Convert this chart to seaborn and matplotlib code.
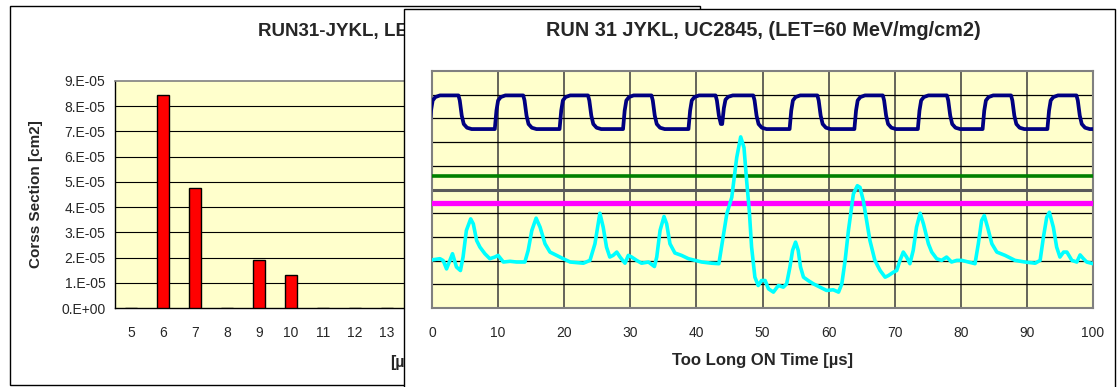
import numpy as np
import pandas as pd
import matplotlib
matplotlib.use("Agg")
import matplotlib.pyplot as plt
from matplotlib.patches import Rectangle
import seaborn as sns

sns.set_style("white")
plt.rcParams["font.family"] = ["Liberation Sans", "DejaVu Sans"]

# ---- cross-section histogram (left chart) ----
ton_bins = [5, 6, 7, 8, 9, 10, 11, 12, 13, 14, 15, 16, 17, 18, 19, 20, 21, 22]
cross_section = [0.0, 8.45e-5, 4.77e-5, 0.0, 1.92e-5, 1.29e-5, 0.0, 0.0, 0.0,
                 0.0, 0.0, 0.0, 0.0, 0.0, 0.0, 0.0, 0.0, 0.0]
xs_ticks = [0.0, 1e-5, 2e-5, 3e-5, 4e-5, 5e-5, 6e-5, 7e-5, 8e-5, 9e-5]
xs_tick_labels = ["0.E+00", "1.E-05", "2.E-05", "3.E-05", "4.E-05",
                  "5.E-05", "6.E-05", "7.E-05", "8.E-05", "9.E-05"]

# ---- oscilloscope capture (right chart), time in us, amplitude in divisions ----
time_ticks = [0, 10, 20, 30, 40, 50, 60, 70, 80, 90, 100]

blue_rise_us = [-0.4, 9.5, 19.3, 28.9, 38.8, 43.9, 54.1, 63.9, 73.5, 83.3, 93.1]
blue_fall_us = [4.0, 13.8, 23.6, 33.2, 42.9, 48.6, 58.3, 68.2, 77.9, 87.6, 97.5]
blue_high_div = 8.97
blue_low_div = 7.55

green_t = [0.0, 100.0]
green_div = [5.58, 5.58]

magenta_t = [0.0, 100.0]
magenta_div = [4.42, 4.42]

cyan_t = [0.0, 1.2, 1.7, 2.2, 3.1, 3.7, 4.3, 4.7, 5.2, 5.85, 6.25, 6.75, 7.25, 8.0,
          8.75, 9.5, 10.0, 10.8, 11.8, 12.8, 14.05, 14.55, 15.1, 15.75, 16.35, 17.1,
          17.85, 18.85, 19.85, 20.9, 22.9, 23.9, 24.65, 25.4, 25.9, 26.4, 26.9, 27.4,
          27.95, 28.45, 29.2, 29.7, 30.2, 30.95, 31.7, 32.75, 33.65, 34.0, 34.5, 35.1,
          35.5, 36.0, 36.75, 37.75, 38.8, 39.8, 40.8, 42.3, 43.4, 43.8, 44.6, 45.35,
          46.1, 46.7, 47.2, 47.6, 48.0, 48.35, 48.85, 49.35, 49.85, 50.4, 50.9, 51.65,
          52.4, 53.15, 53.65, 54.15, 54.55, 55.0, 55.4, 55.75, 56.2, 56.9, 57.7, 58.7,
          59.7, 60.7, 61.5, 62.0, 62.5, 63.0, 63.75, 64.35, 64.75, 65.25, 65.75, 66.25,
          67.0, 67.8, 68.55, 69.05, 69.8, 70.3, 70.8, 71.3, 71.8, 72.3, 72.8, 73.3,
          73.85, 74.35, 74.6, 75.1, 75.6, 76.35, 77.1, 77.85, 78.6, 79.4, 80.15, 81.15,
          82.15, 82.65, 83.15, 83.55, 84.05, 84.7, 85.45, 86.7, 88.2, 89.7, 91.25, 92.0,
          92.5, 93.0, 93.4, 94.0, 94.5, 95.0, 95.55, 96.05, 96.8, 97.55, 98.05, 98.55,
          99.05, 100.0]
cyan_div = [2.03, 2.08, 2.0, 1.65, 2.29, 1.73, 1.58, 2.15, 3.27, 3.76, 3.55, 2.85, 2.57, 2.29,
            2.08, 2.15, 2.22, 1.94, 1.97, 1.94, 1.94, 2.43, 3.27, 3.79, 3.41, 2.71,
            2.36, 2.22, 2.08, 1.94, 1.89, 2.01, 2.71, 4.0, 3.41, 2.57, 2.15, 2.22,
            2.36, 2.15, 1.89, 2.22, 2.15, 2.01, 1.89, 1.94, 1.75, 2.15, 3.27, 3.86,
            3.55, 2.71, 2.32, 2.22, 2.08, 2.01, 1.94, 1.89, 1.87, 2.57, 3.97, 4.67,
            6.35, 7.22, 6.77, 5.37, 4.11, 2.57, 1.30, 0.95, 1.16, 1.16, 0.81, 0.67,
            0.95, 0.88, 1.02, 1.73, 2.43, 2.78, 2.43, 1.73, 1.30, 1.16, 1.02, 0.88,
            0.74, 0.77, 0.67, 1.02, 2.01, 3.27, 4.81, 5.16, 5.09, 4.53, 3.69, 2.85,
            2.01, 1.58, 1.30, 1.37, 1.51, 1.58, 2.01, 2.36, 2.15, 1.87, 2.43, 3.41,
            4.0, 3.55, 3.27, 2.71, 2.36, 2.08, 2.01, 2.15, 1.94, 2.01, 2.01, 1.94,
            1.87, 2.71, 3.69, 3.9, 3.41, 2.71, 2.36, 2.22, 2.01, 1.94, 1.89, 2.01,
            2.99, 3.83, 4.04, 3.41, 2.57, 2.15, 2.36, 2.36, 2.01, 1.94, 2.24, 2.08,
            1.94, 1.87]


def square_trace(rises, falls, hi, lo, t_end):
    """Polyline through the measured rising/falling edges of a logic trace."""
    rise_edge = [(0.0, 0.0), (0.25, 0.55), (0.5, 0.85), (0.9, 0.95), (1.6, 1.0)]
    fall_edge = [(0.0, 0.0), (0.2, 0.15), (0.5, 0.6), (0.8, 0.85), (1.3, 0.96), (2.0, 1.0)]
    events = sorted([(t, "r") for t in rises] + [(t, "f") for t in falls])
    ts, vs = [], []
    v_now = lo
    for i, (t0, kind) in enumerate(events):
        t_next = events[i + 1][0] if i + 1 < len(events) else t_end
        target, edge = (hi, rise_edge) if kind == "r" else (lo, fall_edge)
        v0 = v_now
        for dt, p in edge:
            if t0 + dt < t_next:
                v_now = v0 + p * (target - v0)
                ts.append(t0 + dt)
                vs.append(v_now)
    ts.append(t_end)
    vs.append(v_now)
    return np.array(ts), np.array(vs)


W, H = 1117, 387


def frac(x0, y0, x1, y1):
    return [x0 / W, 1 - y1 / H, (x1 - x0) / W, (y1 - y0) / H]


def fpos(x, y):
    return x / W, 1 - y / H


fig = plt.figure(figsize=(W / 100, H / 100), dpi=100)
fig.patch.set_facecolor("white")

PLOT_BG = "#FFFFCC"
BORDER_GRAY = "#808080"

# pixel layout of the two overlapping chart frames
LEFT_PLOT = (115, 81, 691, 308)
RIGHT_FRAME_X = 404

# ---------------- left chart frame ----------------
ax_lp = fig.add_axes(frac(10, 6, 700, 385), zorder=0)
ax_lp.set_axis_off()
ax_lp.add_patch(Rectangle((0, 0), 1, 1, transform=ax_lp.transAxes, facecolor="white",
                          edgecolor="black", linewidth=1.0, clip_on=False))
ax_lp.text(*fpos(258, 31), "RUN31-JYKL, LET=60 MeV/mg/cm2", transform=fig.transFigure,
           ha="left", va="center", fontsize=13.5, fontweight="bold")
ax_lp.text(*fpos(36, 194), "Corss Section [cm2]", transform=fig.transFigure,
           ha="center", va="center", rotation=90, fontsize=11, fontweight="bold")
ax_lp.text(*fpos(390, 362), "[µs]", transform=fig.transFigure,
           ha="left", va="center", fontsize=11.5, fontweight="bold")

ax_l = fig.add_axes(frac(*LEFT_PLOT), zorder=1)
ax_l.set_facecolor(PLOT_BG)
df_bins = pd.DataFrame({"ton": [str(b) for b in ton_bins], "xs": cross_section})
sns.barplot(data=df_bins, x="ton", y="xs", order=[str(b) for b in ton_bins],
            color="#FF0000", saturation=1, edgecolor="black", linewidth=1.0,
            width=0.4, ax=ax_l, zorder=3)
ax_l.set_xlim(-0.5, len(ton_bins) - 0.5)
ax_l.set_ylim(0, 9e-5)
ax_l.set_yticks(xs_ticks)
ax_l.set_yticklabels(xs_tick_labels)
ax_l.set_xlabel("")
ax_l.set_ylabel("")
for yv in xs_ticks[1:-1]:
    ax_l.axhline(yv, color="black", linewidth=0.8, zorder=1)

# category labels that fall behind the right-hand frame are left blank
slot_px = (LEFT_PLOT[2] - LEFT_PLOT[0]) / len(ton_bins)
cat_labels = [str(b) if LEFT_PLOT[0] + (i + 0.5) * slot_px < RIGHT_FRAME_X else ""
              for i, b in enumerate(ton_bins)]
ax_l.set_xticks(np.arange(len(ton_bins)))
ax_l.set_xticklabels(cat_labels)
ax_l.set_xticks(np.arange(len(ton_bins) + 1) - 0.5, minor=True)
ax_l.tick_params(axis="x", which="major", length=0, pad=13, labelsize=10)
ax_l.tick_params(axis="x", which="minor", length=5, width=1, direction="out", color="black")
ax_l.tick_params(axis="y", which="major", length=5, width=1, direction="out",
                 color="black", pad=2, labelsize=10)
for side in ("top", "right"):
    ax_l.spines[side].set_color(BORDER_GRAY)
    ax_l.spines[side].set_linewidth(1.2)
for side in ("left", "bottom"):
    ax_l.spines[side].set_color("black")
    ax_l.spines[side].set_linewidth(1.0)

# ---------------- right chart frame ----------------
ax_rp = fig.add_axes(frac(RIGHT_FRAME_X, 9, 1115, 395), zorder=2)
ax_rp.set_axis_off()
ax_rp.add_patch(Rectangle((0, 0), 1, 1, transform=ax_rp.transAxes, facecolor="white",
                          edgecolor="black", linewidth=1.0, clip_on=False))
ax_rp.text(*fpos(763, 31), "RUN 31 JYKL, UC2845, (LET=60 MeV/mg/cm2)",
           transform=fig.transFigure, ha="center", va="center",
           fontsize=14.3, fontweight="bold")
ax_rp.text(*fpos(763, 360), "Too Long ON Time [µs]", transform=fig.transFigure,
           ha="center", va="center", fontsize=12, fontweight="bold")

ax_r = fig.add_axes(frac(432, 71, 1093, 308), zorder=3)
ax_r.set_facecolor(PLOT_BG)
ax_r.set_xlim(0, 100)
ax_r.set_ylim(0, 10)
for xv in time_ticks[1:-1]:
    ax_r.axvline(xv, color="#3a3a3a", linewidth=1.1, zorder=1)
for yv in range(1, 10):
    ax_r.axhline(yv, color="black", linewidth=0.9, zorder=1)
ax_r.axhline(5, color="#5a5a5a", linewidth=2.2, zorder=1.1)

bt, bv = square_trace(blue_rise_us, blue_fall_us, blue_high_div, blue_low_div, 100.0)
sns.lineplot(x=bt, y=bv, ax=ax_r, color="#000080", linewidth=2.7,
             estimator=None, sort=False, zorder=4)
sns.lineplot(x=green_t, y=green_div, ax=ax_r, color="#008000", linewidth=2.6,
             estimator=None, sort=False, zorder=4)
sns.lineplot(x=magenta_t, y=magenta_div, ax=ax_r, color="#FF00FF", linewidth=3.8,
             estimator=None, sort=False, zorder=4)
sns.lineplot(x=cyan_t, y=cyan_div, ax=ax_r, color="#00FFFF", linewidth=2.6,
             estimator=None, sort=False, zorder=5)

ax_r.set_xticks(time_ticks)
ax_r.set_xticklabels([str(t) for t in time_ticks])
ax_r.set_yticks([])
ax_r.set_xlabel("")
ax_r.set_ylabel("")
ax_r.tick_params(axis="x", length=0, pad=13, labelsize=10)
for side in ax_r.spines:
    ax_r.spines[side].set_color(BORDER_GRAY)
    ax_r.spines[side].set_linewidth(1.5)

fig.savefig("out.png", dpi=100, facecolor="white")
